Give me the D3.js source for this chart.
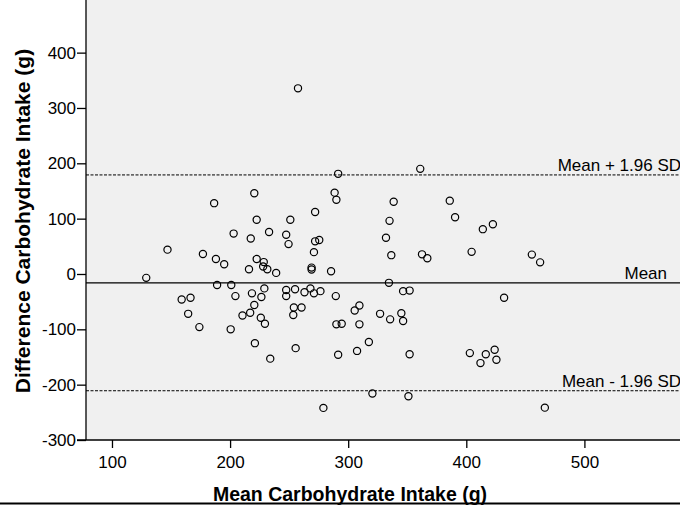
<!DOCTYPE html>
<html><head><meta charset="utf-8">
<script src="https://cdn.jsdelivr.net/npm/d3@7"></script>
<style>
html,body{margin:0;padding:0;background:#fff;}
svg{display:block;font-family:"Liberation Sans",Arial,sans-serif;}
</style></head>
<body>
<svg id="chart" width="680" height="506"></svg>
<script>
// Mean of the two methods (x) and their difference (y), grams
const meanIntake = [129,159,166.5,164.5,174,147,177,186.5,188,195,
  189,201,200.5,203,204.5,210.5,217,220.5,221,220.5,
  222.5,217.5,222.5,216,218.5,226,229.5,226.5,229,228.5,
  228,231.5,233,239,234,247.5,249.5,251,247.5,247.5,
  255,254,260.5,253.5,255.5,257.5,263,268,271,276.5,
  272,272,275.5,271,269,269,285.5,279,288.5,290,
  291.5,289.5,290,294.5,291.5,305.5,309.5,309.5,307.5,317.5,
  320.5,327,334.5,332,335,338.5,336.5,335.5,345,346.5,
  346.5,352,352,351,361,362.5,367,386,390.5,404.5,
  403,412,416.5,414,422.5,432,424,425.5,455.5,462.5,466.5];
const diffIntake = [-7,-46,-43,-72,-96,44,36,128,27,17.5,
  -20,-20,-100,73,-40,-75,-70,-56,-125,146,
  98,64,27,8.5,-35,-79,-90,-41.5,-26,21.5,
  13.5,8.5,76,2,-153,71,54,98,-29,-40,
  -27.5,-60.5,-60.5,-74,-134,335.5,-33,-26,-35,-31,
  112,59,61.5,39.5,11.5,8,5,-242,147,134,
  181,-40,-91,-90,-146,-66,-57,-91,-139,-123,
  -216,-72,-16,65.5,96,130.5,34,-82,-71,-85,
  -31,-30,-145,-221,190,35.5,28.5,132.5,102.5,40,
  -143,-161,-145,81,90,-43,-137,-155,35,21,-241.5];
const xTicks = [100,200,300,400,500];
const yTicks = [-300,-200,-100,0,100,200,300,400];
const refValues = [179,-16,-211];
const refLabels = ["Mean + 1.96 SD","Mean","Mean - 1.96 SD"];
const refDashed = [true,false,true];

const svg = d3.select("#chart");
const W = 680, H = 506;
const left = 86, bottom = 440;
const x = d3.scaleLinear().domain([78,590]).range([left, 690.7]);
const y = d3.scaleLinear().domain([-300,500]).range([bottom, -2.7]);

// plot background
svg.append("rect").attr("x",left).attr("y",0).attr("width",W-left).attr("height",bottom)
  .attr("fill","#f0f0f0");

// reference lines
refValues.forEach((v,i)=>{
  svg.append("line").attr("x1",left).attr("x2",W).attr("y1",y(v)).attr("y2",y(v))
    .attr("stroke","#000").attr("stroke-width",refDashed[i]?1:1.4)
    .attr("stroke-dasharray",refDashed[i]?"3,1.5":null);
});
const labelAnchor = [681,667,681];
refValues.forEach((v,i)=>{
  svg.append("text").attr("x",labelAnchor[i]).attr("y",y(v)-3.5)
    .attr("text-anchor","end").attr("font-size",17).attr("fill","#000")
    .text(refLabels[i]);
});

// points
svg.append("g").selectAll("circle").data(meanIntake.map((m,i)=>[m,diffIntake[i]]))
  .enter().append("circle")
  .attr("cx",d=>x(d[0])).attr("cy",d=>y(d[1])).attr("r",3.6)
  .attr("fill","none").attr("stroke","#000").attr("stroke-width",1.2);

// axes
const fmt = d => String(d);
const yAxis = svg.append("g").attr("transform",`translate(${left},0)`)
  .call(d3.axisLeft(y).tickValues(yTicks).tickSize(9).tickPadding(1).tickFormat(fmt));
const xAxis = svg.append("g").attr("transform",`translate(0,${bottom})`)
  .call(d3.axisBottom(x).tickValues(xTicks).tickSize(8).tickPadding(7.5).tickFormat(fmt));
[yAxis,xAxis].forEach(g=>{
  g.select(".domain").attr("stroke","#000").attr("stroke-width",1.3);
  g.selectAll(".tick line").attr("stroke","#000").attr("stroke-width",1.3);
  g.selectAll("text").attr("font-size",17).attr("fill","#000")
   .attr("font-family","'Liberation Sans',Arial,sans-serif");
});
xAxis.select(".domain").attr("d",`M${left-9},0H${W}`);
yAxis.select(".domain").attr("d",`M0,${bottom}V0`);

// axis titles
svg.append("text").attr("transform",`translate(30,221) rotate(-90)`)
  .attr("text-anchor","middle").attr("font-size",21).attr("font-weight","bold")
  .text("Difference Carbohydrate Intake (g)");
svg.append("text").attr("x",350).attr("y",501)
  .attr("text-anchor","middle").attr("font-size",19.5).attr("font-weight","bold")
  .text("Mean Carbohydrate Intake (g)");

// bottom rule
svg.append("line").attr("x1",0).attr("x2",W).attr("y1",503.5).attr("y2",503.5)
  .attr("stroke","#000").attr("stroke-width",2);
</script>
</body></html>
